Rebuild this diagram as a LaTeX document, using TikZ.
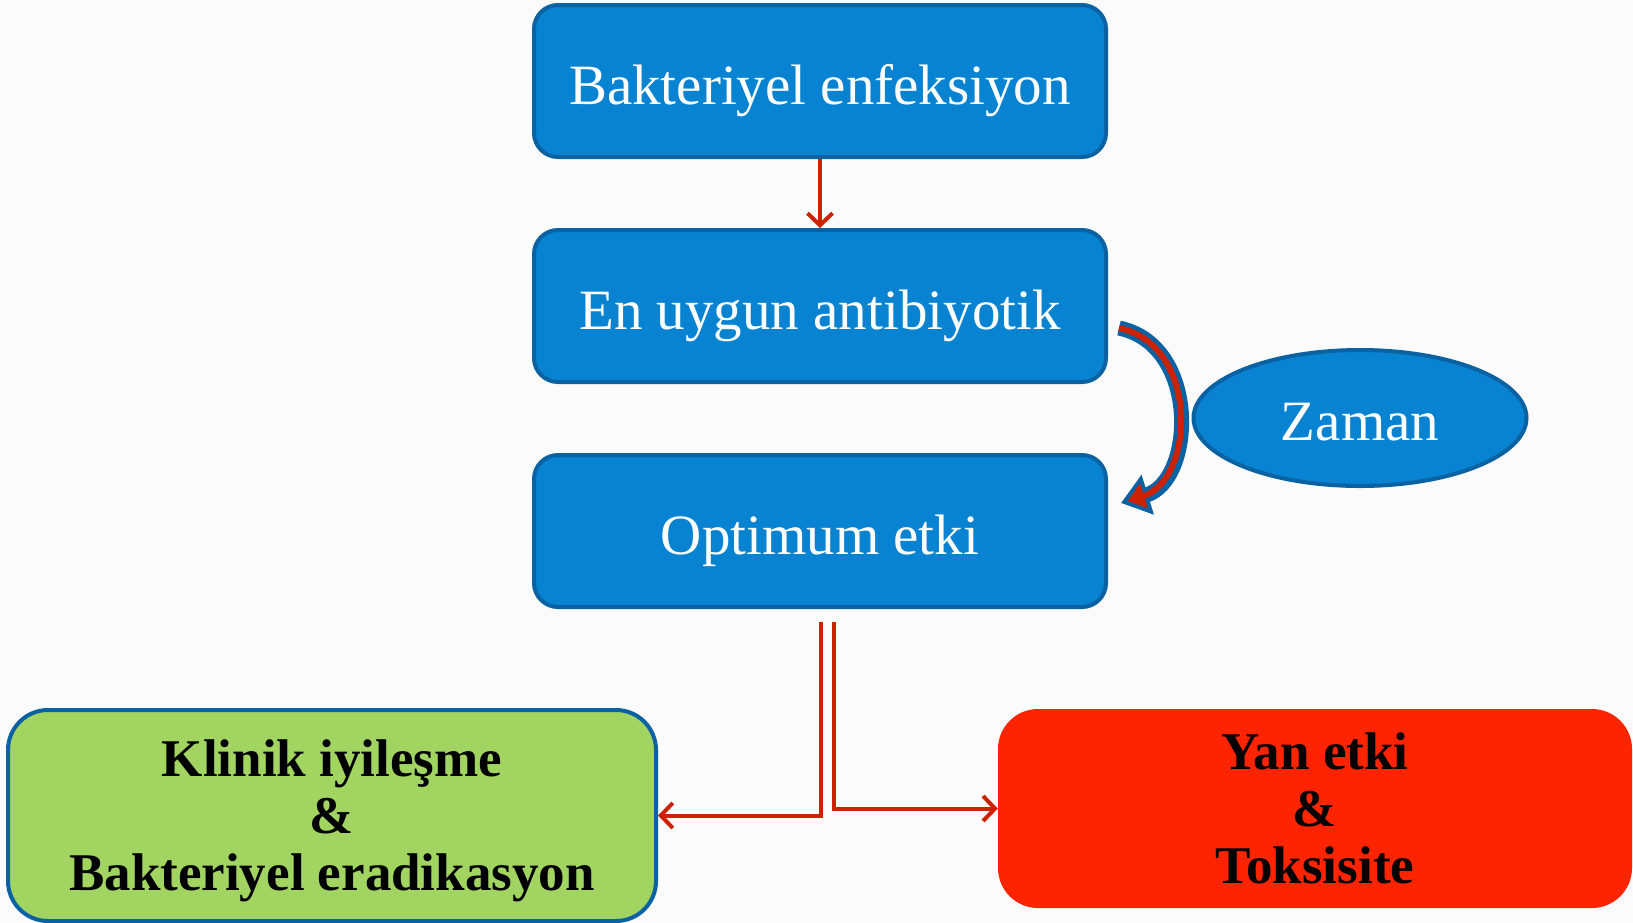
\documentclass[tikz,border=0pt]{standalone}
\usepackage{fontspec}
\setmainfont{Liberation Serif}
\usetikzlibrary{arrows.meta,shapes.geometric}
\definecolor{bgc}{HTML}{FBFBFB}
\definecolor{boxblue}{HTML}{0783D2}
\definecolor{edgeblue}{HTML}{0A62A2}
\definecolor{boxgreen}{HTML}{A2D462}
\definecolor{boxred}{HTML}{FF2400}
\definecolor{arrred}{HTML}{CC2200}
\tikzset{
  bluebox/.style={draw=edgeblue, line width=4pt, fill=boxblue, rounded corners=24pt,
    minimum width=572pt, minimum height=152pt, text=white,
    font=\fontsize{57}{60}\selectfont, inner sep=0pt, text depth=0pt, text height=47pt},
  zamanell/.style={draw=edgeblue, line width=4pt, fill=boxblue, ellipse,
    minimum width=333pt, minimum height=136pt, text=white,
    font=\fontsize{57}{60}\selectfont, inner sep=0pt, text depth=0pt, text height=45pt},
  resbox/.style={rounded corners=40pt, align=center, inner sep=0pt, text depth=0pt,
    font=\fontsize{53}{57}\bfseries\selectfont},
  redarrow/.style={draw=arrred, line width=4pt, -{Straight Barb[length=12pt,width=25pt,line width=4pt]}},
}
\begin{document}
\begin{tikzpicture}[x=1pt,y=-1pt]
\path[fill=bgc] (0,0) rectangle (1633,922);
\useasboundingbox (0,0) rectangle (1633,922);

\node[bluebox] (inf) at (820,81) {Bakteriyel enfeksiyon};
\node[bluebox] (ab) at (820,306) {En uygun antibiyotik};
\node[bluebox] (opt) at (820,531) {Optimum etki};
\node[zamanell] (zaman) at (1360,418) {Zaman};

\node[resbox, draw=edgeblue, line width=4pt, fill=boxgreen, minimum width=648pt, minimum height=211pt]
  (klin) at (332,815.5) {Klinik iyileşme\\\&\\Bakteriyel eradikasyon};
\node[resbox, fill=boxred, minimum width=634pt, minimum height=199pt]
  (yan) at (1315,808.5) {Yan etki\\\&\\Toksisite};

\draw[redarrow] (inf.south) -- (ab.north);

\coordinate (s1) at (821,622);
\coordinate (s2) at (834,622);
\draw[redarrow] (s1) |- (klin.east);
\draw[redarrow] (s2) |- (yan.west);

% curved arrow from antibiotic to optimum effect
\coordinate (ca) at (1119,328);
\coordinate (cb) at (1121,503);
\draw[edgeblue, line width=15pt, -{Triangle[length=28pt,width=40pt]}]
  (ca) .. controls (1200,345) and (1195,480) .. (cb);
\draw[arrred, line width=6pt, shorten >=7pt, -{Triangle[length=17pt,width=25pt]}]
  (ca) .. controls (1200,345) and (1195,480) .. (cb);
\end{tikzpicture}
\end{document}
